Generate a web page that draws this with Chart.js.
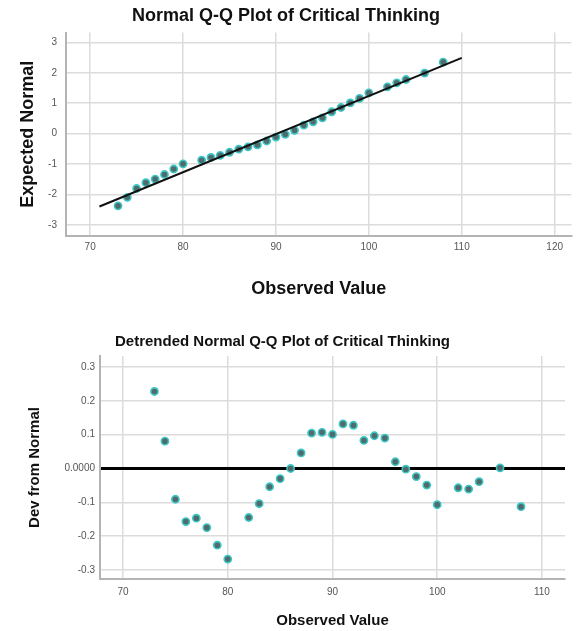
<!DOCTYPE html>
<html>
<head>
<meta charset="utf-8">
<script src="https://cdn.jsdelivr.net/npm/chart.js@4/dist/chart.umd.min.js"></script>
<style>
  body { margin: 0; background: #fff; }
  canvas { display: block; }
</style>
</head>
<body>
<canvas id="qq" width="577" height="300"></canvas>
<canvas id="detrended" width="577" height="331"></canvas>
<script>
// observed scores (Critical Thinking)
var observed = [73, 74, 75, 76, 77, 78, 79, 80, 82, 83, 84, 85, 86, 87, 88, 89, 90,
                91, 92, 93, 94, 95, 96, 97, 98, 99, 100, 102, 103, 104, 106, 108];
// expected normal values
var expectedNormal = [-2.37, -2.09, -1.80, -1.61, -1.49, -1.34, -1.16, -0.99, -0.87, -0.78,
                      -0.71, -0.61, -0.51, -0.43, -0.37, -0.24, -0.11, -0.02, 0.11, 0.28,
                      0.39, 0.52, 0.72, 0.86, 1.01, 1.16, 1.34, 1.54, 1.67, 1.78, 1.99, 2.35];
// deviation from normal
var devFromNormal = [0.228, 0.081, -0.091, -0.157, -0.147, -0.175, -0.227, -0.268, -0.145, -0.104,
                     -0.054, -0.030, 0.000, 0.046, 0.105, 0.107, 0.101, 0.132, 0.128, 0.083,
                     0.097, 0.090, 0.020, -0.002, -0.024, -0.049, -0.107, -0.057, -0.061, -0.039,
                     0.002, -0.113];
// reference line ends
var fitX = [71, 110];
var fitY = [-2.39, 2.49];

var FONT = "'Liberation Sans', Arial, sans-serif";
var gridColor = '#dcdcdc';
var axisColor = '#b4b4b4';
var tickColor = '#555';
var ptFill = '#4f6b6b';
var ptBorder = '#3cc6c6';

function pts(xs, ys) {
  var out = [];
  for (var i = 0; i < xs.length; i++) out.push({x: xs[i], y: ys[i]});
  return out;
}

// top: normal Q-Q plot
new Chart(document.getElementById('qq'), {
  type: 'scatter',
  data: {
    datasets: [{
      type: 'line',
      data: pts(fitX, fitY),
      borderColor: '#111',
      borderWidth: 2,
      pointRadius: 0,
      fill: false,
      order: 0
    }, {
      data: pts(observed, expectedNormal),
      backgroundColor: ptFill,
      borderColor: ptBorder,
      borderWidth: 1.6,
      pointRadius: 3.6,
      order: 1
    }]
  },
  options: {
    responsive: false,
    animation: false,
    layout: { padding: { left: 0, right: 5, top: 0, bottom: 0 } },
    plugins: {
      legend: { display: false },
      tooltip: { enabled: false },
      title: {
        display: true,
        text: 'Normal Q-Q Plot of Critical Thinking',
        color: '#111',
        font: { family: FONT, size: 18, weight: 'bold' },
        padding: { top: 5, bottom: 6 }
      }
    },
    scales: {
      x: {
        type: 'linear',
        min: 67.4, max: 121.8,
        afterFit: function(s) { s.height = 64; },
        grid: { color: gridColor, lineWidth: 1.5, drawTicks: false },
        border: { color: axisColor, width: 2 },
        ticks: { stepSize: 10, includeBounds: false, padding: 5, color: tickColor,
                 font: { family: FONT, size: 10 } },
        title: { display: true, text: 'Observed Value', color: '#111',
                 font: { family: FONT, size: 18, weight: 'bold' },
                 padding: { top: 0, bottom: 0 } }
      },
      y: {
        min: -3.36, max: 3.32,
        afterFit: function(s) { s.width = 66; },
        grid: { color: gridColor, lineWidth: 1.5, drawTicks: false },
        border: { color: axisColor, width: 2 },
        ticks: { stepSize: 1, includeBounds: false, padding: 9, color: tickColor,
                 font: { family: FONT, size: 10 } },
        title: { display: true, text: 'Expected Normal', color: '#111',
                 font: { family: FONT, size: 18, weight: 'bold' },
                 padding: { top: 17, bottom: 0 } }
      }
    }
  }
});

// bottom: detrended normal Q-Q plot
new Chart(document.getElementById('detrended'), {
  type: 'scatter',
  data: {
    datasets: [{
      data: pts(observed, devFromNormal),
      backgroundColor: ptFill,
      borderColor: ptBorder,
      borderWidth: 1.6,
      pointRadius: 3.6
    }]
  },
  options: {
    responsive: false,
    animation: false,
    layout: { padding: { left: 0, right: 12, top: 0, bottom: 0 } },
    plugins: {
      legend: { display: false },
      tooltip: { enabled: false },
      title: {
        display: true,
        text: 'Detrended Normal Q-Q Plot of Critical Thinking',
        color: '#111',
        font: { family: FONT, size: 15, weight: 'bold' },
        padding: { top: 33, bottom: 5 }
      }
    },
    scales: {
      x: {
        type: 'linear',
        min: 67.8, max: 112.2,
        afterFit: function(s) { s.height = 52; },
        grid: { color: gridColor, lineWidth: 1.5, drawTicks: false },
        border: { color: axisColor, width: 2 },
        ticks: { stepSize: 10, includeBounds: false, padding: 7, color: tickColor,
                 font: { family: FONT, size: 10 } },
        title: { display: true, text: 'Observed Value', color: '#111',
                 font: { family: FONT, size: 15, weight: 'bold' },
                 padding: { top: 0, bottom: 1 } }
      },
      y: {
        min: -0.327, max: 0.333,
        afterFit: function(s) { s.width = 100; },
        grid: {
          drawTicks: false,
          color: function(ctx) { return ctx.tick && Math.abs(ctx.tick.value) < 1e-9 ? '#000' : gridColor; },
          lineWidth: function(ctx) { return ctx.tick && Math.abs(ctx.tick.value) < 1e-9 ? 3 : 1.5; }
        },
        border: { color: axisColor, width: 2 },
        ticks: {
          stepSize: 0.1, includeBounds: false, padding: 5, color: tickColor,
          font: { family: FONT, size: 10 },
          callback: function(v) { return Math.abs(v) < 1e-9 ? '0.0000' : v.toFixed(1); }
        },
        title: { display: true, text: 'Dev from Normal', color: '#111',
                 font: { family: FONT, size: 15, weight: 'bold' },
                 padding: { top: 26, bottom: 0 } }
      }
    }
  }
});
</script>
</body>
</html>
